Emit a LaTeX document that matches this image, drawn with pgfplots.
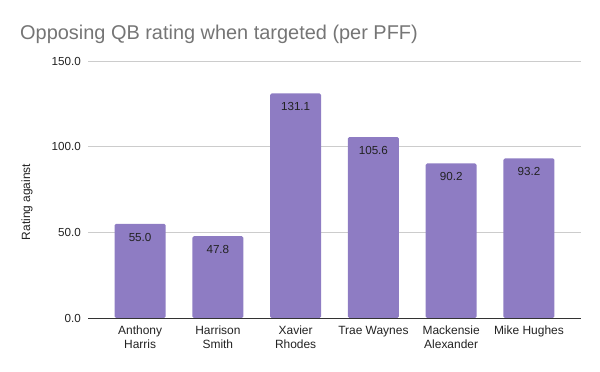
\documentclass[border=0pt]{standalone}
\usepackage{fontspec}
\setmainfont{Liberation Sans}
\usepackage{pgfplots}
\pgfplotsset{compat=1.18}
\definecolor{barpurple}{HTML}{8E7CC3}
\definecolor{titlegray}{HTML}{757575}
\definecolor{gridgray}{HTML}{CCCCCC}
\definecolor{axisdark}{HTML}{333333}
\definecolor{labeldark}{HTML}{222222}
\begin{document}
\begin{tikzpicture}[x=1bp,y=1bp]
\path[use as bounding box] (0,0) rectangle (600,371);
\node[anchor=base west, font=\fontsize{20}{23}\selectfont, text=titlegray, inner sep=0pt] at (20,332) {Opposing QB rating when targeted (per PFF)};
\node[anchor=base, rotate=90, font=\fontsize{12}{14}\selectfont, text=labeldark, inner sep=0pt] at (30,169) {Rating against};
\begin{axis}[
  at={(88bp,53bp)}, anchor=south west,
  scale only axis, width=493bp, height=257bp,
  xmin=-0.67, xmax=5.67, ymin=0, ymax=150,
  axis line style={draw=none},
  axis x line*=bottom,
  ytick={0,50,100,150},
  ymajorgrids, grid style={gridgray, line width=0.8bp},
  major tick length=0pt,
  xtick={0,1,2,3,4,5},
  xticklabels={{Anthony\\Harris},{Harrison\\Smith},{Xavier\\Rhodes},{Trae Waynes},{Mackensie\\Alexander},{Mike Hughes}},
  xticklabel style={align=center, font=\fontsize{12}{14}\selectfont, text=labeldark, anchor=north, inner sep=0pt, yshift=-8bp},
  yticklabel style={font=\fontsize{11.7}{13}\selectfont, text=labeldark, anchor=east, inner sep=0pt, xshift=-7bp},
  /pgf/number format/.cd, fixed, fixed zerofill, precision=1, assume math mode=true,
]
\addplot[ybar, bar width=0.655, fill=barpurple, draw=none, rounded corners=1.5bp,
  nodes near coords,
  every node near coord/.style={anchor=north, inner sep=0pt, yshift=-9bp, font=\fontsize{11.7}{13}\selectfont, text=labeldark, /pgf/number format/.cd, fixed, fixed zerofill, precision=1, assume math mode=true}
] coordinates {(0,55.0) (1,47.8) (2,131.1) (3,105.6) (4,90.2) (5,93.2)};
\draw[axisdark, line width=1bp] (axis cs:-0.67,0) -- (axis cs:5.67,0);
\end{axis}
\end{tikzpicture}
\end{document}
